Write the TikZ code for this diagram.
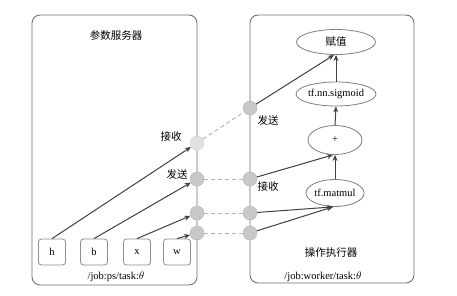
\documentclass[tikz,border=0pt]{standalone}
\usepackage{fontspec}
\setmainfont{Liberation Serif}
\newfontfamily\cjk{Noto Sans CJK SC}
\usetikzlibrary{shapes.geometric,arrows.meta}
\definecolor{boxline}{HTML}{707070}
\definecolor{dotfill}{HTML}{C8C8C8}
\definecolor{dotline}{HTML}{B4B4B4}
\definecolor{arrowc}{HTML}{404040}
\tikzset{
  container/.style={draw=boxline, line width=0.9pt, rounded corners=8pt, inner sep=0pt},
  varbox/.style={draw=boxline!80, line width=0.8pt, rounded corners=3pt, minimum width=27pt, minimum height=26pt, inner sep=0pt, font=\fontsize{10.5}{12}\selectfont},
  opnode/.style={draw=boxline!90, line width=0.8pt, ellipse, inner sep=0pt, font=\fontsize{10.5}{12}\selectfont},
  port/.style={circle, draw=dotline, fill=dotfill, minimum size=14pt, inner sep=0pt},
  lightport/.style={port, fill=dotfill!55, draw=dotline!60},
  link/.style={dashed, draw=dotline, line width=1pt, dash pattern=on 4pt off 3pt},
  flow/.style={draw=arrowc, line width=1pt, -{Stealth[length=6pt,width=5pt]}},
  cjklabel/.style={font=\cjk\fontsize{10.5}{12}\selectfont, inner sep=0pt},
  txtlabel/.style={font=\fontsize{10.5}{12}\selectfont, inner sep=0pt}
}
\begin{document}
\begin{tikzpicture}[x=1pt,y=-1pt]
\useasboundingbox (0,0) rectangle (457,295);
\fill[white] (0,0) rectangle (457,295);
% containers
\node[container, minimum width=165pt, minimum height=270pt] (ps) at (114.5,150) {};
\node[container, minimum width=164pt, minimum height=268pt] (wk) at (332,149) {};
\node[cjklabel] (pstitle) at (116,35) {参数服务器};
\node[txtlabel] (psname) at (116,277) {/job:ps/task:$\theta$};
\node[cjklabel] (wktitle) at (331,253) {操作执行器};
\node[txtlabel] (wkname) at (323,277) {/job:worker/task:$\theta$};
% variables
\node[varbox] (h) at (52,252) {h};
\node[varbox] (b) at (94,252) {b};
\node[varbox] (x) at (137,252) {x};
\node[varbox] (w) at (177,252) {w};
% operations
\node[opnode, minimum width=79pt, minimum height=25pt] (fz) at (336,42) {\cjk 赋值};
\node[opnode, minimum width=80pt, minimum height=24pt] (sig) at (336,94) {tf.nn.sigmoid};
\node[opnode, minimum width=54pt, minimum height=29pt] (plus) at (335,140) {+};
\node[opnode, minimum width=54pt, minimum height=27pt] (mm) at (335,193) {tf.matmul};
% ports
\node[lightport] (c1l) at (197,143) {};
\node[port] (c2l) at (197,179) {};
\node[port] (c3l) at (197,213) {};
\node[port] (c4l) at (197,233) {};
\node[port] (c1r) at (250,108) {};
\node[port] (c2r) at (250,179) {};
\node[port] (c3r) at (250,213) {};
\node[port] (c4r) at (250,233) {};
% port labels
\node[cjklabel] (l1) at (171,137) {接收};
\node[cjklabel] (l2) at (177,174) {发送};
\node[cjklabel] (l3) at (268,121) {发送};
\node[cjklabel] (l4) at (268,187) {接收};
% links
\draw[link] (c1l) -- (c1r);
\draw[link] (c2l) -- (c2r);
\draw[link] (c3l) -- (c3r);
\draw[link] (c4l) -- (c4r);
% flows
\draw[flow] (h.north) -- (c1l);
\draw[flow] (b.north) -- (c2l);
\draw[flow] (x.north) -- (c3l);
\draw[flow] (w.north) -- (c4l);
\draw[flow] (c1r) -- ([xshift=-2pt]fz.south);
\draw[flow] (c2r) -- ([xshift=-2pt]plus.south);
\draw[flow] (c3r) -- ([xshift=-2pt]mm.south);
\draw[flow] (c4r) -- ([xshift=-2pt]mm.south);
\draw[flow] (sig.north) -- (fz.south);
\draw[flow] (plus.north) -- (sig.south);
\draw[flow] (mm.north) -- (plus.south);
\end{tikzpicture}
\end{document}
